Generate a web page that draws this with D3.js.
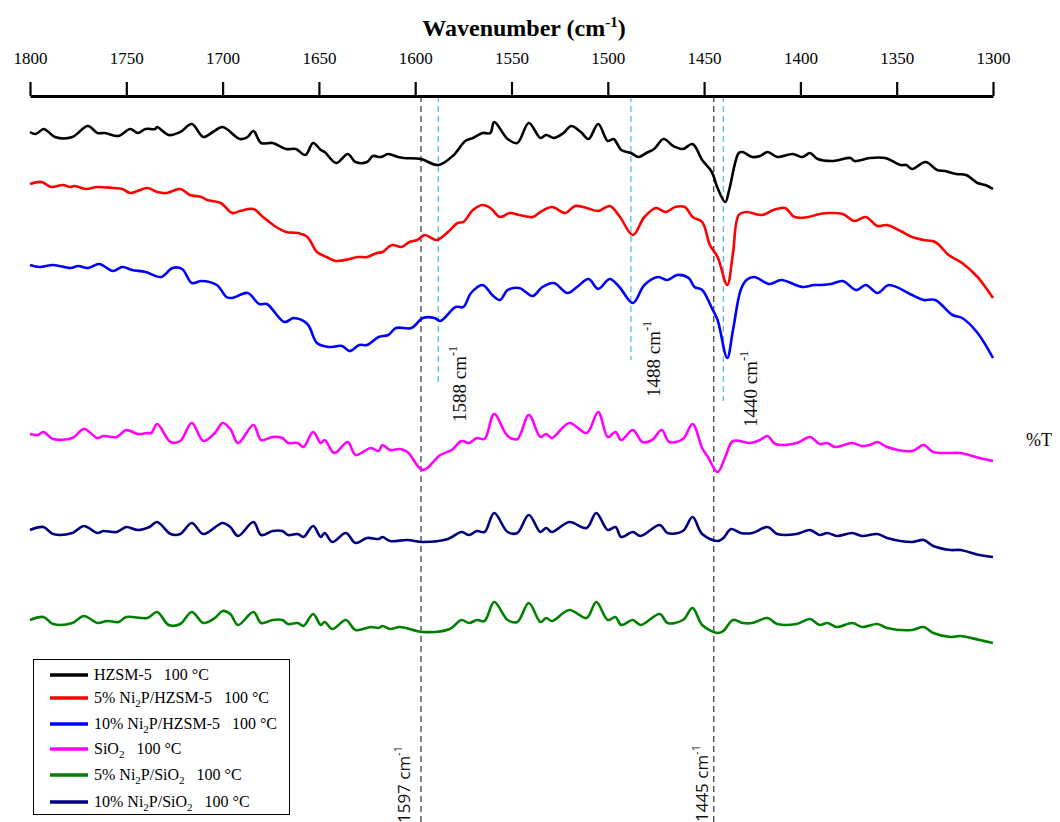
<!DOCTYPE html>
<html>
<head>
<meta charset="utf-8">
<script src="https://cdn.jsdelivr.net/npm/d3@7"></script>
<style>
  body { margin: 0; background: #fff; }
  svg text { white-space: pre; }
</style>
</head>
<body>
<svg id="chart" width="1060" height="822"></svg>
<script>
// wavenumber (cm-1) and %T (arbitrary, offset)
const hzsmWn = [1800,1797,1793,1791,1787,1778,1770,1765,1761,1754,1748,1744,1740,1735,1734,1728,1722,1716,1710,1705,1700,1691,1687,1684,1680,1674,1667,1662,1657,1653,1649,1647,1641,1635,1631,1625,1622,1618,1614,1609,1606,1597,1588,1580,1574,1570,1565,1561,1559,1552,1547,1541,1535,1532,1528,1523,1519,1514,1510,1505,1500,1497,1493,1488,1484,1480,1476,1471,1466,1461,1456,1451,1446,1443,1439,1437,1432,1430,1425,1421,1417,1412,1404,1399,1395,1391,1383,1374,1372,1364,1356,1348,1345,1342,1335,1329,1325,1319,1314,1308,1304,1300];
const hzsmT = [668,666,671,669,663,663,674,667,667,664,671,667,671,671,673,665,668,676,663,668,673,661,663,669,657,657,651,651,645,657,650,648,637,646,638,638,644,643,646,643,642,641,635,645,659,662,667,667,678,661,657,677,662,665,662,667,674,668,661,676,659,661,650,647,643,647,651,661,654,651,656,640,628,612,598,610,647,648,643,644,648,643,646,643,647,641,639,642,639,642,642,635,635,631,638,630,629,626,625,617,615,611];

const ni5hzWn = [1800,1794,1789,1783,1779,1777,1771,1765,1757,1752,1748,1739,1734,1729,1722,1717,1711,1708,1701,1695,1691,1684,1679,1673,1667,1661,1656,1651,1646,1641,1634,1630,1625,1620,1617,1612,1607,1603,1599,1595,1589,1583,1578,1575,1570,1565,1561,1556,1551,1546,1539,1535,1529,1522,1517,1511,1505,1499,1494,1487,1481,1475,1470,1465,1460,1456,1451,1447,1443,1438,1435,1432,1428,1420,1414,1408,1403,1396,1390,1385,1378,1372,1366,1360,1355,1348,1342,1336,1330,1323,1316,1308,1304,1300];
const ni5hzT = [616,618,613,615,613,614,611,613,612,611,607,612,608,607,611,605,603,600,597,587,589,591,583,574,568,567,563,548,543,539,541,543,543,547,548,555,553,558,560,565,560,568,577,578,590,595,592,583,587,585,583,588,593,587,594,592,589,594,584,565,583,592,588,593,593,583,578,555,543,515,547,585,588,585,590,592,583,583,586,587,586,579,583,574,575,569,563,560,558,545,537,523,513,502];

const ni10hzWn = [1800,1795,1788,1779,1775,1770,1764,1757,1752,1747,1740,1732,1726,1721,1716,1711,1703,1698,1695,1687,1681,1677,1668,1663,1656,1651,1645,1638,1634,1629,1625,1619,1614,1610,1602,1596,1590,1587,1579,1575,1571,1565,1560,1556,1552,1546,1539,1534,1528,1521,1516,1510,1505,1499,1494,1487,1481,1474,1469,1464,1458,1455,1451,1446,1443,1438,1435,1431,1428,1424,1416,1410,1399,1393,1389,1384,1378,1371,1366,1360,1354,1342,1336,1330,1321,1316,1308,1300];
const ni10hzT = [535,533,535,532,534,532,536,529,533,530,528,523,532,531,517,519,515,503,502,507,496,496,478,482,476,457,453,454,449,455,455,463,465,472,472,482,482,479,493,493,507,515,505,500,510,512,504,513,517,507,513,521,511,521,513,497,515,523,520,525,522,513,510,492,480,442,470,510,520,523,516,520,513,515,515,516,519,510,515,507,515,505,500,500,485,482,467,442];

const sio2Wn = [1800,1796,1793,1788,1778,1772,1765,1762,1755,1750,1744,1739,1737,1734,1727,1722,1716,1710,1704,1700,1696,1692,1684,1680,1674,1669,1666,1661,1658,1653,1649,1647,1642,1635,1631,1623,1619,1617,1613,1608,1604,1596,1587,1581,1576,1572,1568,1564,1559,1552,1547,1541,1535,1532,1529,1520,1511,1505,1500,1496,1493,1487,1482,1477,1472,1468,1461,1456,1451,1448,1443,1439,1435,1426,1421,1417,1413,1402,1395,1390,1386,1382,1373,1368,1364,1360,1355,1342,1336,1331,1322,1317,1307,1300];
const sio2T = [366,365,368,361,362,371,362,364,363,370,366,367,367,376,358,359,377,359,367,377,371,357,375,360,363,362,357,357,353,368,357,360,347,358,345,352,349,355,350,351,348,330,345,350,359,357,362,361,386,364,361,385,363,366,362,377,367,388,363,368,360,370,358,360,370,358,361,376,352,343,328,343,359,357,360,364,356,357,363,356,357,353,357,354,355,358,353,349,355,348,347,347,342,339];

const ni10siWn = [1800,1793,1788,1778,1772,1765,1762,1755,1750,1744,1738,1734,1727,1722,1716,1710,1700,1696,1692,1684,1680,1674,1669,1666,1661,1658,1653,1649,1647,1643,1636,1631,1625,1619,1617,1613,1604,1596,1583,1576,1572,1568,1564,1559,1552,1547,1541,1535,1532,1529,1520,1511,1506,1500,1496,1493,1487,1483,1473,1469,1461,1456,1451,1443,1440,1436,1431,1425,1417,1412,1402,1395,1390,1386,1381,1373,1368,1360,1355,1342,1336,1331,1322,1317,1307,1300];
const ni10siT = [270,273,266,267,274,267,269,268,273,270,273,278,266,266,277,266,277,273,264,278,265,269,269,265,266,263,274,263,267,258,267,257,262,261,263,259,260,258,261,268,265,269,268,287,268,267,285,268,272,268,278,272,287,270,273,263,268,264,275,267,269,283,266,259,262,271,267,267,273,266,266,270,265,267,264,267,264,266,262,258,260,254,250,250,245,243];

const ni5siWn = [1800,1793,1788,1778,1772,1765,1760,1754,1750,1739,1734,1728,1722,1716,1710,1704,1700,1696,1692,1684,1680,1674,1669,1666,1661,1658,1653,1649,1647,1643,1636,1631,1623,1619,1617,1613,1608,1596,1582,1576,1572,1568,1564,1559,1552,1547,1541,1535,1532,1529,1520,1511,1506,1500,1496,1493,1487,1483,1473,1469,1461,1456,1451,1443,1440,1435,1430,1425,1417,1412,1402,1395,1390,1386,1381,1373,1368,1360,1355,1342,1336,1331,1322,1317,1307,1300];
const ni5siT = [180,183,176,177,184,177,179,178,183,182,188,175,176,188,177,182,189,186,175,188,177,180,180,176,177,174,186,175,178,171,180,170,173,172,174,171,173,168,171,180,177,180,179,198,180,178,197,178,182,179,190,182,198,180,183,175,180,175,186,177,180,192,175,167,169,180,177,177,182,176,176,181,175,177,173,177,173,176,172,170,173,167,163,164,160,157];

const xTicks = [1800,1750,1700,1650,1600,1550,1500,1450,1400,1350,1300];

// drawing order and legend order
const series = [
  { name: ["HZSM-5   100 °C"], color: "#000000", wn: hzsmWn, t: hzsmT },
  { name: ["5% Ni", "2", "P/HZSM-5   100 °C"], color: "#ff0000", wn: ni5hzWn, t: ni5hzT },
  { name: ["10% Ni", "2", "P/HZSM-5   100 °C"], color: "#0000ff", wn: ni10hzWn, t: ni10hzT },
  { name: ["SiO", "2", "   100 °C"], color: "#ff00ff", wn: sio2Wn, t: sio2T },
  { name: ["5% Ni", "2", "P/SiO", "2", "   100 °C"], color: "#008000", wn: ni5siWn, t: ni5siT },
  { name: ["10% Ni", "2", "P/SiO", "2", "   100 °C"], color: "#000080", wn: ni10siWn, t: ni10siT }
];

// peak markers: [wavenumber, end of line in %T units]
const blackMarks = [1597, 1445];
const cyanMarks = [[1588, 415], [1488, 440], [1440, 399]];

const svg = d3.select("#chart");
const serif = "'Liberation Serif', 'Times New Roman', serif";
const sans = "'Open Sans', 'DejaVu Sans', sans-serif";

const x = d3.scaleLinear().domain([1800, 1300]).range([30, 993]);
const y = d3.scaleLinear().domain([0, 700]).range([800, 100]);
const axisY = 96;

// dashed markers
blackMarks.forEach(w => {
  svg.append("line")
    .attr("x1", x(w)).attr("x2", x(w))
    .attr("y1", axisY).attr("y2", 822)
    .attr("stroke", "#444").attr("stroke-width", 1.3)
    .attr("stroke-dasharray", "6,4");
});
cyanMarks.forEach(([w, end]) => {
  svg.append("line")
    .attr("x1", x(w)).attr("x2", x(w))
    .attr("y1", axisY).attr("y2", y(end))
    .attr("stroke", "#55bde8").attr("stroke-width", 1.3)
    .attr("stroke-dasharray", "6,4");
});

// spectra
const line = d3.line()
  .x(d => x(d[0]))
  .y(d => y(d[1]))
  .curve(d3.curveCatmullRom.alpha(0.5));

series.forEach(s => {
  svg.append("path")
    .datum(d3.zip(s.wn, s.t))
    .attr("fill", "none")
    .attr("stroke", s.color)
    .attr("stroke-width", 2.6)
    .attr("stroke-linejoin", "round")
    .attr("d", line);
});

// top axis
const axis = svg.append("g")
  .attr("transform", `translate(0,${axisY})`)
  .call(d3.axisTop(x).tickValues(xTicks).tickFormat(d3.format("d"))
    .tickSize(14).tickSizeOuter(0).tickPadding(18));
axis.select(".domain").attr("stroke-width", 3);
axis.selectAll(".tick line").attr("stroke-width", 2.2);
axis.selectAll(".tick text")
  .attr("font-family", serif).attr("font-size", 17).attr("fill", "#000");

const title = svg.append("text")
  .attr("x", 524).attr("y", 36)
  .attr("text-anchor", "middle")
  .attr("font-family", serif).attr("font-size", 24).attr("font-weight", "bold");
title.append("tspan").text("Wavenumber (cm");
title.append("tspan").attr("dy", -9).attr("font-size", 15).text("-1");
title.append("tspan").attr("dy", 9).text(")");

svg.append("text")
  .attr("x", 1026).attr("y", 446)
  .attr("font-family", serif).attr("font-size", 18)
  .text("%T");

// rotated peak labels
function peakLabel(w, px, py, font, size, anchor) {
  const t = svg.append("text")
    .attr("transform", `translate(${px},${py}) rotate(-90)`)
    .attr("text-anchor", anchor)
    .attr("font-family", font).attr("font-size", size).attr("fill", "#111");
  t.append("tspan").text(w + " cm");
  t.append("tspan").attr("dy", -size * 0.45).attr("font-size", size * 0.65).text("-1");
}
peakLabel(1588, 466, 422, serif, 19, "start");
peakLabel(1488, 660, 397, serif, 19, "start");
peakLabel(1440, 757, 427, serif, 19, "start");
peakLabel(1597, 410, 746, sans, 17, "end");
peakLabel(1445, 708, 745, sans, 17, "end");

// legend
const legend = svg.append("g");
legend.append("rect")
  .attr("x", 33.5).attr("y", 659.5).attr("width", 256).attr("height", 155)
  .attr("fill", "#fff").attr("stroke", "#000").attr("stroke-width", 1);
const rowY = [675, 698, 724, 749, 775, 802];
series.forEach((s, i) => {
  legend.append("line")
    .attr("x1", 50).attr("x2", 88)
    .attr("y1", rowY[i]).attr("y2", rowY[i])
    .attr("stroke", s.color).attr("stroke-width", 3.5);
  const t = legend.append("text")
    .attr("x", 94).attr("y", rowY[i] + 5)
    .attr("font-family", serif).attr("font-size", 16);
  s.name.forEach((part, j) => {
    const sub = part === "2";
    const sp = t.append("tspan").text(part);
    if (sub) sp.attr("font-size", 11).attr("dy", 4);
    else if (j > 0) sp.attr("dy", -4);
  });
});
</script>
</body>
</html>
